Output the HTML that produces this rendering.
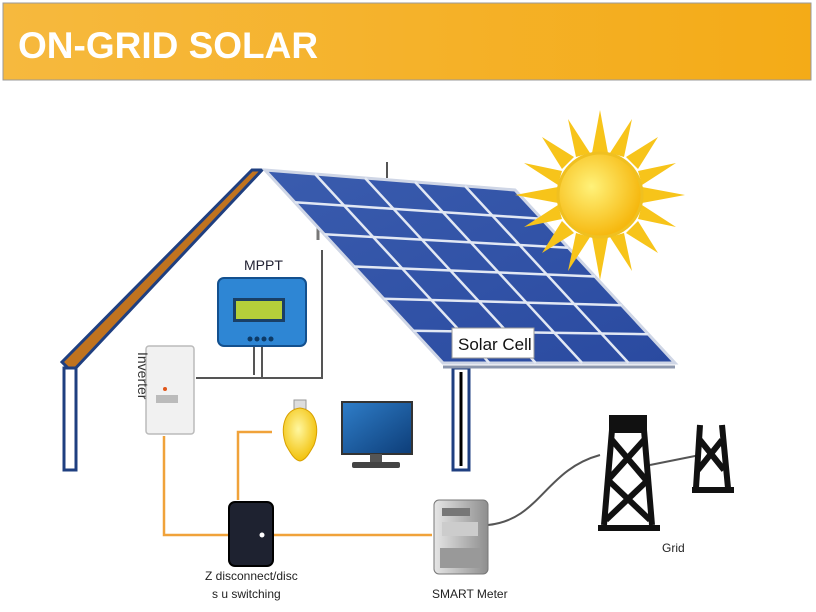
<!DOCTYPE html>
<html><head><meta charset="utf-8"><style>
html,body{margin:0;padding:0;background:#fff;width:816px;height:612px;overflow:hidden}
</style></head><body>
<svg width="816" height="612" viewBox="0 0 816 612" xmlns="http://www.w3.org/2000/svg" font-family="Liberation Sans, sans-serif">
<defs>
<linearGradient id="hd" x1="0" x2="1"><stop offset="0" stop-color="#f6b93e"/><stop offset="1" stop-color="#f4ab17"/></linearGradient>
<linearGradient id="pn" x1="0" y1="0" x2="1" y2="1"><stop offset="0" stop-color="#3a5cae"/><stop offset="1" stop-color="#2a4aa0"/></linearGradient>
<radialGradient id="sun" cx="0.4" cy="0.4" r="0.6"><stop offset="0" stop-color="#fff27a"/><stop offset="1" stop-color="#f6b80f"/></radialGradient>
<radialGradient id="bulb" cx="0.45" cy="0.4" r="0.6"><stop offset="0" stop-color="#fff7a0"/><stop offset="1" stop-color="#f2c10a"/></radialGradient>
<linearGradient id="mon" x1="0" y1="0" x2="1" y2="1"><stop offset="0" stop-color="#2f7ec9"/><stop offset="1" stop-color="#0d3d78"/></linearGradient>
<linearGradient id="met" x1="0" x2="1"><stop offset="0" stop-color="#e6e6e6"/><stop offset="1" stop-color="#8e8e8e"/></linearGradient>
</defs>
<!-- header -->
<rect x="3" y="3" width="808" height="77" fill="url(#hd)" stroke="#999" stroke-width="1"/>
<text x="18" y="58" font-size="37" font-weight="bold" fill="#fff">ON-GRID SOLAR</text>

<!-- house left roof and wall -->
<polygon points="62,362 252,170 262,170 72,372" fill="#c0731f" stroke="#1f3f80" stroke-width="3"/>
<rect x="64" y="368" width="12" height="102" fill="#fff" stroke="#1f3f80" stroke-width="3"/>
<!-- posts -->
<rect x="453" y="368" width="16" height="102" fill="#fff" stroke="#1f3f80" stroke-width="3"/>
<line x1="461" y1="372" x2="461" y2="466" stroke="#000" stroke-width="3"/>
<line x1="318" y1="228" x2="318" y2="240" stroke="#777" stroke-width="3"/>
<line x1="387" y1="162" x2="387" y2="178" stroke="#555" stroke-width="2"/>

<!-- solar panel -->
<polygon points="265,170 515,190 675,363 443,363" fill="url(#pn)" stroke="#cfd6e6" stroke-width="3"/>
<line x1="443" y1="367" x2="675" y2="367" stroke="#8c97ad" stroke-width="3"/>
<g stroke="#e2e8f4" stroke-width="2.5" fill="none">
<line x1="294.7" y1="202.2" x2="541.7" y2="218.8"/>
<line x1="324.3" y1="234.3" x2="568.3" y2="247.7"/>
<line x1="354" y1="266.5" x2="595" y2="276.5"/>
<line x1="383.7" y1="298.7" x2="621.7" y2="305.3"/>
<line x1="413.3" y1="330.8" x2="648.3" y2="334.2"/>
<line x1="315" y1="174" x2="489.4" y2="363"/>
<line x1="365" y1="178" x2="535.8" y2="363"/>
<line x1="415" y1="182" x2="582.2" y2="363"/>
<line x1="465" y1="186" x2="628.6" y2="363"/>
</g>
<rect x="452" y="328" width="82" height="30" fill="#fff" stroke="#999"/>
<text x="458" y="350" font-size="17" fill="#111">Solar Cell</text>

<!-- sun -->
<g transform="translate(600,195)">
<g fill="#f7c41a">
<polygon points="0,-85 8,-42 -8,-42"/><polygon points="0,85 8,42 -8,42"/>
<polygon points="-85,0 -42,8 -42,-8"/><polygon points="85,0 42,8 42,-8"/>
<polygon points="58,-58 26,-38 38,-26"/><polygon points="-58,-58 -26,-38 -38,-26"/>
<polygon points="58,58 26,38 38,26"/><polygon points="-58,58 -26,38 -38,26"/>
<polygon points="32,-76 10,-42 24,-38"/><polygon points="-32,-76 -10,-42 -24,-38"/>
<polygon points="32,76 10,42 24,38"/><polygon points="-32,76 -10,42 -24,38"/>
<polygon points="76,-32 42,-10 38,-24"/><polygon points="-76,-32 -42,-10 -38,-24"/>
<polygon points="76,32 42,10 38,24"/><polygon points="-76,32 -42,10 -38,24"/>
</g>
<circle r="42" fill="url(#sun)" stroke="#f0c020" stroke-width="3"/>
</g>

<!-- gray wires -->
<g stroke="#555" stroke-width="2" fill="none">
<polyline points="196,378 322,378 322,250"/>
<line x1="262" y1="345" x2="262" y2="378"/>
<line x1="254" y1="345" x2="254" y2="375"/>
<path d="M488,525 C540,520 545,470 600,455"/>
<path d="M650,465 L700,455"/>
</g>

<!-- MPPT -->
<text x="244" y="270" font-size="14" fill="#223">MPPT</text>
<rect x="218" y="278" width="88" height="68" rx="6" fill="#2e86d4" stroke="#13508e" stroke-width="2"/>
<rect x="233" y="298" width="52" height="24" fill="#1a3f66"/>
<rect x="236" y="301" width="46" height="18" fill="#b5cf3a"/>
<g fill="#0d3a66"><circle cx="250" cy="339" r="2.5"/><circle cx="257" cy="339" r="2.5"/><circle cx="264" cy="339" r="2.5"/><circle cx="271" cy="339" r="2.5"/></g>

<!-- inverter -->
<rect x="146" y="346" width="48" height="88" rx="3" fill="#f1f1f1" stroke="#bbb" stroke-width="1.5"/>
<circle cx="165" cy="389" r="2" fill="#e0561a"/>
<rect x="156" y="395" width="22" height="8" fill="#bbb"/>
<text transform="translate(138,352) rotate(90)" font-size="14" fill="#333">Inverter</text>

<!-- orange wires -->
<g stroke="#f0a23a" stroke-width="2.5" fill="none">
<polyline points="164,436 164,535 229,535"/>
<line x1="272" y1="535" x2="432" y2="535"/>
<polyline points="238,500 238,432 272,432"/>
</g>

<!-- bulb -->
<rect x="294" y="400" width="12" height="9" fill="#ddd" stroke="#999"/>
<path d="M300,408 C316,410 320,428 314,445 C310,452 306,460 300,461 C294,460 290,452 286,445 C280,428 284,410 300,408Z" fill="url(#bulb)" stroke="#d8a000"/>

<!-- monitor -->
<rect x="342" y="402" width="70" height="52" fill="url(#mon)" stroke="#333" stroke-width="2"/>
<rect x="370" y="454" width="12" height="8" fill="#555"/>
<rect x="352" y="462" width="48" height="6" rx="2" fill="#444"/>

<!-- disconnect switch -->
<rect x="229" y="502" width="44" height="64" rx="6" fill="#1e2230" stroke="#000" stroke-width="2"/>
<circle cx="262" cy="535" r="2.5" fill="#fff"/>
<text x="205" y="580" font-size="12" fill="#222">Z disconnect/disc</text>
<text x="212" y="598" font-size="12" fill="#222">s u switching</text>

<!-- meter -->
<rect x="434" y="500" width="54" height="74" rx="5" fill="url(#met)" stroke="#777"/>
<rect x="442" y="508" width="28" height="8" fill="#777"/>
<rect x="442" y="522" width="36" height="14" fill="#ccc"/>
<rect x="440" y="548" width="40" height="20" fill="#999"/>
<text x="432" y="598" font-size="12" fill="#222">SMART Meter</text>

<!-- towers -->
<g stroke="#111" stroke-width="6" fill="none">
<rect x="612" y="418" width="32" height="12" fill="#111"/>
<line x1="612" y1="430" x2="604" y2="525"/><line x1="644" y1="430" x2="652" y2="525"/>
<line x1="612" y1="440" x2="646" y2="480"/><line x1="644" y1="440" x2="608" y2="480"/>
<line x1="608" y1="480" x2="650" y2="520"/><line x1="648" y1="480" x2="606" y2="520"/>
<line x1="598" y1="528" x2="660" y2="528"/>
<line x1="700" y1="425" x2="696" y2="488"/><line x1="722" y1="425" x2="728" y2="488"/>
<line x1="700" y1="440" x2="724" y2="470"/><line x1="722" y1="440" x2="698" y2="470"/>
<line x1="692" y1="490" x2="734" y2="490"/>
</g>
<text x="662" y="552" font-size="12" fill="#222">Grid</text>
</svg>
</body></html>
